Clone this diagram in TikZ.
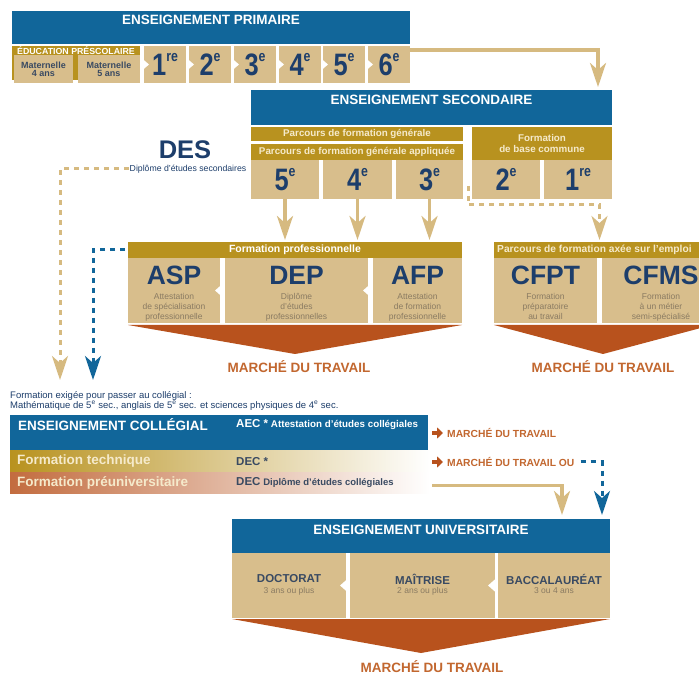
\documentclass[tikz,border=0pt]{standalone}
\usepackage{graphicx}
\usepackage{fontspec}
\setmainfont{Liberation Sans}
\usetikzlibrary{arrows.meta,calc,positioning}

\definecolor{qcblue}{HTML}{11669A}
\definecolor{qcgold}{HTML}{B8921F}
\definecolor{qctan}{HTML}{D8BE8C}
\definecolor{qcnavy}{HTML}{1D3E6B}
\definecolor{qcrust}{HTML}{B8521D}
\definecolor{qcorange}{HTML}{C2672F}
\definecolor{qcsand}{HTML}{D6BA80}
\definecolor{qcgray}{HTML}{8A7B62}
\definecolor{qccream}{HTML}{F5EACB}
\definecolor{qcslate}{HTML}{394A62}

\newcommand{\gradeno}[2]{\scalebox{0.82}[1]{\bfseries\fontsize{31}{31}\selectfont #1\raisebox{14pt}{\fontsize{15}{15}\selectfont #2}}}

\tikzset{
  block/.style={anchor=north west, inner sep=0pt, outer sep=0pt},
  bluebox/.style={block, fill=qcblue},
  goldbox/.style={block, fill=qcgold},
  tanbox/.style={block, fill=qctan, text=qcnavy},
  headtext/.style={inner sep=0pt, text=white, font=\bfseries\fontsize{13.5}{14}\selectfont},
  bartext/.style={text=qccream, font=\bfseries\fontsize{9.8}{11}\selectfont},
  abbr/.style={inner sep=0pt, text=qcnavy, font=\bfseries\fontsize{26.5}{27}\selectfont},
  note/.style={inner sep=0pt, anchor=north, text=qcgray, align=center, font=\fontsize{8.5}{10}\selectfont},
  degree/.style={inner sep=0pt, text=qcslate, font=\bfseries\fontsize{11.5}{12}\selectfont},
  market/.style={inner sep=0pt, text=qcorange, font=\bfseries\fontsize{13.5}{14}\selectfont},
  smallmarket/.style={inner sep=0pt, anchor=west, text=qcorange, font=\bfseries\fontsize{10.3}{11}\selectfont},
  sandarrow/.style={draw=qcsand, line width=3.5pt, ->},
  sanddash/.style={draw=qcsand, line width=3pt, dash pattern=on 5pt off 5pt, ->},
  bluedash/.style={draw=qcblue, line width=3pt, dash pattern=on 5pt off 5pt, ->},
  rustarrow/.style={draw=qcrust, line width=4.5pt, -{Triangle[length=6pt,width=11pt]}},
}

\begin{document}
\begin{tikzpicture}[x=1pt,y=-1pt,>={Stealth[length=24pt,width=16pt,inset=7pt]}]
\useasboundingbox[fill=white] (0,0) rectangle (699,684);
\clip (0,0) rectangle (699,684);

% enseignement primaire
\node[bluebox, minimum width=398pt, minimum height=33pt] (primhead) at (12,11) {};
\node[headtext] (primlbl) at ([yshift=-9pt]primhead.north) {ENSEIGNEMENT PRIMAIRE};
\node[goldbox, minimum width=128pt, minimum height=34pt] (prescol) at (12,46) {};
\node[inner sep=0pt, text=white, font=\bfseries\fontsize{8.8}{9}\selectfont] (prescollbl) at ([yshift=-4.5pt]prescol.north) {ÉDUCATION PRÉSCOLAIRE};
\node[tanbox, align=center, minimum width=59pt, minimum height=28pt, text=qcslate, font=\bfseries\fontsize{9}{8}\selectfont] (mat4) at (14,55) {Maternelle\\4 ans};
\node[tanbox, align=center, minimum width=62pt, minimum height=28pt, text=qcslate, font=\bfseries\fontsize{9}{8}\selectfont] (mat5) at (78,55) {Maternelle\\5 ans};
\foreach \gx/\gn/\gs [count=\i] in {144/1/re,189/2/e,234/3/e,279/4/e,323/5/e,368/6/e}
  \node[tanbox, minimum width=42pt, minimum height=37pt] (p\i) at (\gx,46) {\gradeno{\gn}{\gs}};
\foreach \i in {1,...,6}
  \fill[white] ([xshift=-2pt]p\i.west) ++(0,-6) -- ++(7,6) -- ++(-7,6) -- cycle;

% enseignement secondaire
\node[bluebox, minimum width=361pt, minimum height=35pt] (sechead) at (251,90) {};
\node[headtext] (seclbl) at ([yshift=-10pt]sechead.north) {ENSEIGNEMENT SECONDAIRE};
\node[goldbox, bartext, minimum width=212pt, minimum height=14pt] (pfg) at (251,127) {Parcours de formation générale};
\node[goldbox, bartext, minimum width=212pt, minimum height=16pt] (pfga) at (251,144) {Parcours de formation générale appliquée};
\node[goldbox, bartext, align=center, minimum width=140pt, minimum height=33pt] (fbc) at (472,127) {Formation\\de base commune};
\node[tanbox, minimum width=68pt, minimum height=39pt] (s5) at (251,160) {\gradeno{5}{e}};
\node[tanbox, minimum width=69pt, minimum height=39pt] (s4) at (323,160) {\gradeno{4}{e}};
\node[tanbox, minimum width=67pt, minimum height=39pt] (s3) at (396,160) {\gradeno{3}{e}};
\node[tanbox, minimum width=68pt, minimum height=39pt] (s2) at (472,160) {\gradeno{2}{e}};
\node[tanbox, minimum width=68pt, minimum height=39pt] (s1) at (544,160) {\gradeno{1}{re}};

% DES
\node[inner sep=0pt, text=qcnavy, font=\bfseries\fontsize{25.5}{26}\selectfont] (des) at (185,150) {DES};
\node[inner sep=1pt, text=qcnavy, font=\fontsize{8.7}{9}\selectfont] (desfull) at (188,169) {Diplôme d'études secondaires};

% formation professionnelle
\node[goldbox, minimum width=334pt, minimum height=16pt, text=white, font=\bfseries\fontsize{10.5}{11}\selectfont] (fpbar) at (128,242) {Formation professionnelle};
\node[tanbox, minimum width=92pt, minimum height=65pt] (asp) at (128,258) {};
\node[tanbox, minimum width=143pt, minimum height=65pt] (dep) at (225,258) {};
\node[tanbox, minimum width=89pt, minimum height=65pt] (afp) at (373,258) {};
\node[abbr] (asplbl) at ([yshift=-17pt]asp.north) {ASP};
\node[note] (aspnote) at ([yshift=-35pt]asp.north) {Attestation\\de spécialisation\\professionnelle};
\node[abbr] (deplbl) at ([yshift=-17pt]dep.north) {DEP};
\node[note] (depnote) at ([yshift=-35pt]dep.north) {Diplôme\\d'études\\professionnelles};
\node[abbr] (afplbl) at ([yshift=-17pt]afp.north) {AFP};
\node[note] (afpnote) at ([yshift=-35pt]afp.north) {Attestation\\de formation\\professionnelle};
\fill[white] ([xshift=-2pt]dep.west) ++(0,-7) -- ++(-8,7) -- ++(8,7) -- cycle;
\fill[white] ([xshift=-2pt]afp.west) ++(0,-7) -- ++(-8,7) -- ++(8,7) -- cycle;
\fill[qcrust] ([yshift=-2pt]asp.south west) -- ([yshift=-2pt]afp.south east) -- ($(asp.south west)!0.5!(afp.south east)+(0,31)$) -- cycle;
\node[market] (mdtfp) at (299,367) {MARCHÉ DU TRAVAIL};

% formation axee sur l'emploi
\node[goldbox, minimum width=215pt, minimum height=16pt] (axbar) at (494,242) {};
\node[inner sep=0pt, anchor=west, text=qccream, font=\bfseries\fontsize{10.2}{11}\selectfont] (axlbl) at ([xshift=3pt]axbar.west) {Parcours de formation axée sur l'emploi};
\node[tanbox, minimum width=103pt, minimum height=65pt] (cfpt) at (494,258) {};
\node[tanbox, minimum width=110pt, minimum height=65pt] (cfms) at (602,258) {};
\node[abbr] (cfptlbl) at ([yshift=-17pt]cfpt.north) {CFPT};
\node[note] (cfptnote) at ([yshift=-35pt]cfpt.north) {Formation\\préparatoire\\au travail};
\node[abbr] (cfmslbl) at ([xshift=59pt,yshift=-17pt]cfms.north west) {CFMS};
\node[note] (cfmsnote) at ([xshift=59pt,yshift=-35pt]cfms.north west) {Formation\\à un métier\\semi-spécialisé};
\fill[qcrust] ([yshift=-2pt]cfpt.south west) -- ([yshift=-2pt]cfms.south east) -- ($(cfpt.south west)!0.5!(cfms.south east)+(0,31)$) -- cycle;
\node[market] (mdtax) at (603,367) {MARCHÉ DU TRAVAIL};

% enseignement collegial
\node[inner sep=0pt, anchor=north west, align=left, text=qcnavy, font=\fontsize{9.5}{10}\selectfont] (prereq) at (10,391) {Formation exigée pour passer au collégial :\\Mathématique de 5\textsuperscript{e} sec., anglais de 5\textsuperscript{e} sec. et sciences physiques de 4\textsuperscript{e} sec.};
\node[bluebox, minimum width=418pt, minimum height=36pt] (collbox) at (10,415) {};
\node[headtext, anchor=west] (colllbl) at ([xshift=8pt,yshift=-10pt]collbox.north west) {ENSEIGNEMENT COLLÉGIAL};
\node[inner sep=0pt, anchor=west, text=white] (aec) at ([xshift=226pt,yshift=-10pt]collbox.north west) {{\bfseries\fontsize{11.5}{12}\selectfont AEC *} {\bfseries\fontsize{9.8}{10}\selectfont Attestation d'études collégiales}};
\node[block, left color=qcgold, middle color=qcgold!30, right color=white, minimum width=420pt, minimum height=21pt] (techbar) at (10,451) {};
\node[block, left color=qcrust!85, middle color=qcrust!20, right color=white, minimum width=420pt, minimum height=21pt] (preubar) at (10,472) {};
\node[inner sep=0pt, anchor=west, text=qccream, font=\bfseries\fontsize{13.5}{14}\selectfont] (techlbl) at ([xshift=7pt]techbar.west) {Formation technique};
\node[inner sep=0pt, anchor=west, text=qccream, font=\bfseries\fontsize{13.5}{14}\selectfont] (preulbl) at ([xshift=7pt]preubar.west) {Formation préuniversitaire};
\node[inner sep=0pt, anchor=west, text=qcslate] (dectech) at ([xshift=226pt]techbar.west) {\bfseries\fontsize{11.5}{12}\selectfont DEC *};
\node[inner sep=0pt, anchor=west, text=qcslate] (decpreu) at ([xshift=226pt]preubar.west) {{\bfseries\fontsize{11.5}{12}\selectfont DEC} {\bfseries\fontsize{9.5}{10}\selectfont Diplôme d'études collégiales}};
\node[smallmarket] (mdtaec) at (447,433) {MARCHÉ DU TRAVAIL};
\node[smallmarket] (mdtdec) at (447,462) {MARCHÉ DU TRAVAIL OU};

% enseignement universitaire
\node[bluebox, minimum width=378pt, minimum height=34pt] (univhead) at (232,519) {};
\node[headtext] (univlbl) at ([yshift=-11pt]univhead.north) {ENSEIGNEMENT UNIVERSITAIRE};
\node[tanbox, minimum width=114pt, minimum height=65pt] (doct) at (232,553) {};
\node[tanbox, minimum width=145pt, minimum height=65pt] (mait) at (350,553) {};
\node[tanbox, minimum width=112pt, minimum height=65pt] (bacc) at (498,553) {};
\node[degree] (doctlbl) at ([yshift=-26pt]doct.north) {DOCTORAT};
\node[note] (doctnote) at ([yshift=-34pt]doct.north) {3 ans ou plus};
\node[degree] (maitlbl) at ([yshift=-26pt]mait.north) {MAÎTRISE};
\node[note] (maitnote) at ([yshift=-34pt]mait.north) {2 ans ou plus};
\node[degree] (bacclbl) at ([yshift=-26pt]bacc.north) {BACCALAURÉAT};
\node[note] (baccnote) at ([yshift=-34pt]bacc.north) {3 ou 4 ans};
\fill[white] ([xshift=-2pt]mait.west) ++(0,-7) -- ++(-8,7) -- ++(8,7) -- cycle;
\fill[white] ([xshift=-2pt]bacc.west) ++(0,-7) -- ++(-8,7) -- ++(8,7) -- cycle;
\fill[qcrust] ([yshift=-1pt]doct.south west) -- ([yshift=-1pt]bacc.south east) -- ($(doct.south west)!0.5!(bacc.south east)+(0,35)$) -- cycle;
\node[market] (mdtuniv) at (432,667) {MARCHÉ DU TRAVAIL};

% fleches
\coordinate (split) at (468,186);
\coordinate (axin) at ($(cfpt.north east)!0.5!(cfms.north west)+(0,-18)$);
\coordinate (colldrop1) at (60,380);
\coordinate (colldrop2) at (93,380);
\draw[sandarrow] ([yshift=-4pt]p6.north east) -| ([xshift=-14pt,yshift=3pt]sechead.north east);
\draw[sandarrow, shorten >=2pt] (s5.south) -- (s5.south |- fpbar.north);
\draw[sandarrow, shorten >=2pt] (s4.south) -- (s4.south |- fpbar.north);
\draw[sandarrow, shorten >=2pt] (s3.south) -- (s3.south |- fpbar.north);
\draw[sanddash] (split) |- ([yshift=35pt]axin) -- (axin);
\draw[sanddash] (desfull.west) -| (colldrop1);
\draw[bluedash, shorten <=3pt] (fpbar.west) -| (colldrop2);
\draw[rustarrow] ([xshift=4pt]collbox.east |- mdtaec.west) -- ([xshift=-4pt]mdtaec.west);
\draw[rustarrow] ([xshift=4pt]collbox.east |- mdtdec.west) -- ([xshift=-4pt]mdtdec.west);
\draw[sandarrow] ([xshift=2pt,yshift=-3pt]preubar.east) -| ([xshift=-48pt,yshift=4pt]univhead.north east);
\draw[bluedash] ([xshift=6pt]mdtdec.east) -| ([xshift=-8pt,yshift=4pt]univhead.north east);
\end{tikzpicture}
\end{document}
